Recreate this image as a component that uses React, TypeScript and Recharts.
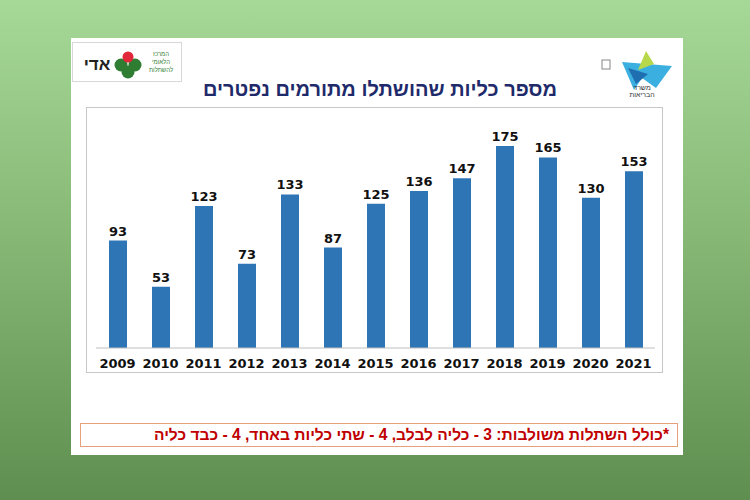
import React from "react"
import { BarChart, Bar, XAxis, YAxis, LabelList } from "recharts"

const years = ["2009", "2010", "2011", "2012", "2013", "2014", "2015", "2016", "2017", "2018", "2019", "2020", "2021"]
const kidneys = [93, 53, 123, 73, 133, 87, 125, 136, 147, 175, 165, 130, 153]

const title = "מספר כליות שהושתלו מתורמים נפטרים"
const footnote = "*כולל השתלות משולבות: 3 - כליה לבלב, 4 - שתי כליות באחד, 4 - כבד כליה"

const data = years.map((year, i) => ({ year, value: kidneys[i] }))

const font = "'Liberation Sans', Arial, sans-serif"
const numFont = "'DejaVu Sans', 'Liberation Sans', sans-serif"

function AdiLogo() {
  return (
    <div
      style={{
        position: "absolute",
        left: 72,
        top: 42,
        width: 108,
        height: 38,
        border: "1px solid #d8d8d8",
        background: "#fff",
      }}
    >
      <svg width={108} height={38}>
        {/* clover */}
        <circle cx={48} cy={22} r={6.5} fill="#2f7d32" />
        <circle cx={62} cy={22} r={6.5} fill="#2f7d32" />
        <circle cx={55} cy={29} r={6.5} fill="#2f7d32" />
        <circle cx={55} cy={14} r={5.5} fill="#e0283a" />
        <text x={24} y={27} fontFamily={font} fontSize={17} fontWeight="bold" textAnchor="middle" fill="#222">
          אדי
        </text>
        <text x={88} y={13} fontFamily={font} fontSize={6} textAnchor="middle" fill="#2f7d32">
          המרכז
        </text>
        <text x={88} y={21} fontFamily={font} fontSize={6} textAnchor="middle" fill="#2f7d32">
          הלאומי
        </text>
        <text x={88} y={29} fontFamily={font} fontSize={6} textAnchor="middle" fill="#2f7d32">
          להשתלות
        </text>
      </svg>
    </div>
  )
}

function MinistryLogo() {
  return (
    <svg width={80} height={50} style={{ position: "absolute", left: 598, top: 48 }}>
      <rect x={4} y={12} width={8} height={9} fill="#fff" stroke="#888" strokeWidth={1} />
      <polygon points="24,14 74,18 58,40 44,30 36,42" fill="#3bb0e0" />
      <polygon points="48,3 56,16 40,22" fill="#b7d84a" />
      <polygon points="30,20 50,26 38,36" fill="#1f6fb0" />
      <text x={44} y={42} fontFamily={font} fontSize={7} textAnchor="middle" fill="#333">
        משרד
      </text>
      <text x={44} y={49} fontFamily={font} fontSize={7} textAnchor="middle" fill="#333">
        הבריאות
      </text>
    </svg>
  )
}

export default function App() {
  return (
    <div
      style={{
        position: "absolute",
        left: 0,
        top: 0,
        width: 750,
        height: 500,
        background: "linear-gradient(180deg, #a6d897 0%, #88b977 45%, #5f8f50 100%)",
        fontFamily: font,
      }}
    >
      <div
        style={{
          position: "absolute",
          left: 71,
          top: 38,
          width: 612,
          height: 417,
          background: "#fff",
        }}
      />
      <AdiLogo />
      <MinistryLogo />
      <div
        dir="rtl"
        style={{
          position: "absolute",
          left: 150,
          top: 78,
          width: 460,
          textAlign: "center",
          fontSize: 20,
          fontWeight: "bold",
          color: "#1f2a6b",
        }}
      >
        {title}
      </div>
      <div
        style={{
          position: "absolute",
          left: 86,
          top: 107,
          width: 577,
          height: 266,
          border: "1px solid #c8c8c8",
          boxSizing: "border-box",
          background: "#fff",
        }}
      >
        <BarChart width={577} height={266} data={data} margin={{ top: 9, right: 9, bottom: 0, left: 9 }}>
          <XAxis
            dataKey="year"
            height={26}
            tickLine={false}
            tickMargin={5}
            axisLine={{ stroke: "#bfbfbf" }}
            tick={{ fill: "#111", fontSize: 13, fontWeight: "bold", fontFamily: numFont }}
            interval={0}
          />
          <YAxis hide domain={[0, 200]} />
          <Bar dataKey="value" fill="#2e75b6" barSize={18} isAnimationActive={false}>
            <LabelList
              dataKey="value"
              position="top"
              offset={5}
              style={{ fill: "#111", fontSize: 13, fontWeight: "bold", fontFamily: numFont }}
            />
          </Bar>
        </BarChart>
      </div>
      <div
        dir="rtl"
        style={{
          position: "absolute",
          left: 80,
          top: 423,
          width: 598,
          height: 24,
          border: "1px solid #e6a07a",
          boxSizing: "border-box",
          padding: "0 8px",
          fontSize: 15.6,
          fontWeight: "bold",
          lineHeight: "22px",
          color: "#c00000",
          background: "#fff",
        }}
      >
        {footnote}
      </div>
    </div>
  )
}
